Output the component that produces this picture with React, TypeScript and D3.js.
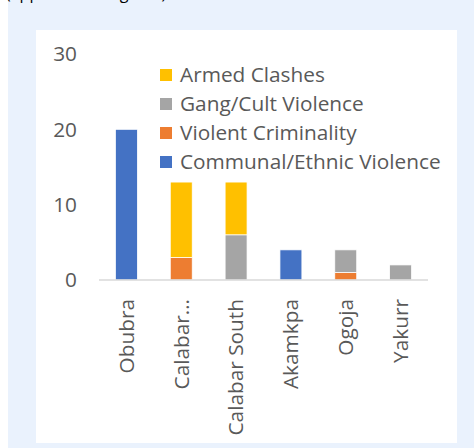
import React from "react";
import * as d3 from "d3";

const districts = ["Obubra", "Calabar…", "Calabar South", "Akamkpa", "Ogoja", "Yakurr"];
const seriesKeys = ["Communal/Ethnic Violence", "Violent Criminality", "Gang/Cult Violence", "Armed Clashes"];
const communal = [20, 0, 0, 4, 0, 0];
const criminality = [0, 3, 0, 0, 1, 0];
const gangCult = [0, 0, 6, 0, 3, 2];
const armed = [0, 10, 7, 0, 0, 0];
const yTicks = [0, 10, 20, 30];
const colors = ["#4472C4", "#ED7D31", "#A5A5A5", "#FFC000"];

const W = 474;
const H = 448;
const FONT = "'Open Sans', sans-serif";
const FS = 20.8;

export default function App() {
  const rows = districts.map((name, i) => ({
    name,
    [seriesKeys[0]]: communal[i],
    [seriesKeys[1]]: criminality[i],
    [seriesKeys[2]]: gangCult[i],
    [seriesKeys[3]]: armed[i],
  }));
  const series = d3.stack<any>().keys(seriesKeys)(rows);

  const x = d3.scaleBand().domain(districts).range([99, 428]).paddingInner(0.6).paddingOuter(0.3);
  const y = d3.scaleLinear().domain([0, 30]).range([280, 54]);

  return (
    <svg width={W} height={H} style={{ position: "absolute", left: 0, top: 0 }} fontFamily={FONT}>
      <rect x={0} y={0} width={W} height={H} fill="#ffffff" />
      <rect x={8} y={0} width={W - 8} height={H} fill="#EAF2FD" />
      <text x={6} y={-1.5} fontSize={16} fill="#000">(approximate figures)</text>
      <rect x={36} y={30} width={421} height={413} fill="#ffffff" />

      {yTicks.map((t) => (
        <text key={t} x={77} y={y(t)} dy="0.35em" textAnchor="end" fontSize={FS} fill="#595959">
          {t}
        </text>
      ))}

      {series.map((s, si) => (
        <g key={s.key} fill={colors[si]}>
          {s.map((d, i) =>
            d[1] - d[0] > 0 ? (
              <rect
                key={i}
                x={x(districts[i])!}
                y={y(d[1])}
                width={x.bandwidth()}
                height={y(d[0]) - y(d[1])}
                stroke="#ffffff"
                strokeWidth={0.75}
              />
            ) : null
          )}
        </g>
      ))}

      <line x1={99} x2={428} y1={y(0)} y2={y(0)} stroke="#D9D9D9" strokeWidth={1.5} />

      {districts.map((d) => (
        <text
          key={d}
          transform={`translate(${x(d)! + x.bandwidth() / 2},${y(0) + 19}) rotate(-90)`}
          dy="0.35em"
          textAnchor="end"
          fontSize={FS}
          fill="#595959"
        >
          {d}
        </text>
      ))}

      {seriesKeys
        .slice()
        .reverse()
        .map((k, i) => (
          <g key={k} transform={`translate(160,${75 + i * 29})`}>
            <rect x={0} y={-6} width={12} height={12} fill={colors[seriesKeys.indexOf(k)]} />
            <text x={20} y={0} dy="0.35em" fontSize={FS} fill="#595959">
              {k}
            </text>
          </g>
        ))}
    </svg>
  );
}
